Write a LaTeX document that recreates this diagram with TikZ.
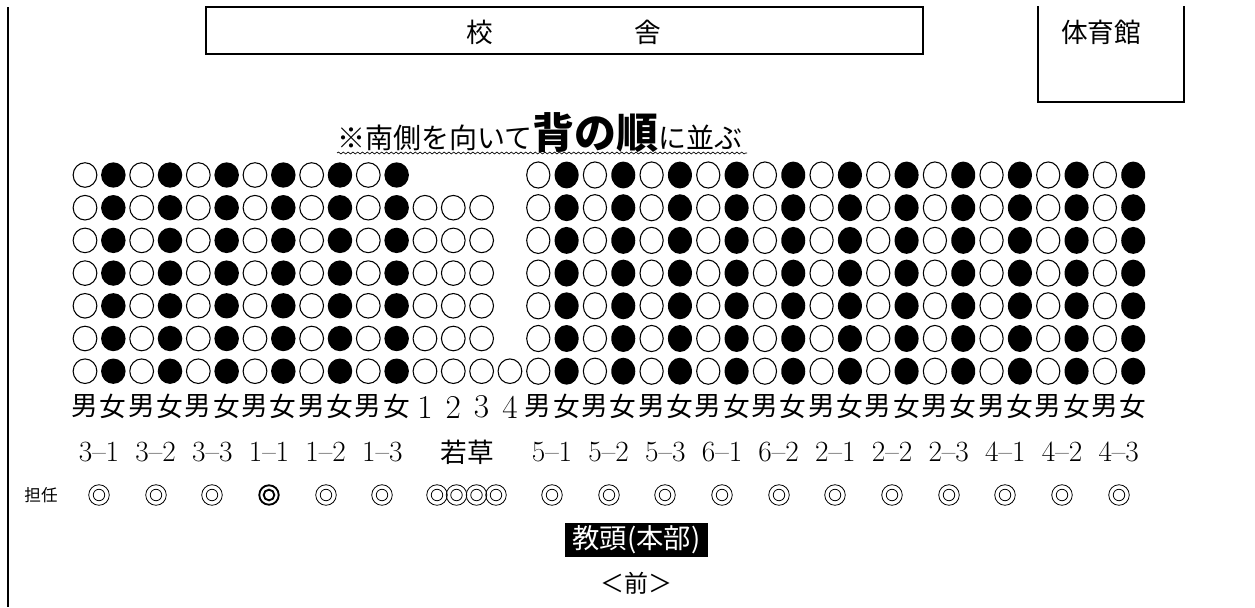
\documentclass[tikz,border=0pt]{standalone}
\usepackage{fontspec}
\newfontfamily\jp{Noto Sans CJK JP}
\usetikzlibrary{decorations.pathmorphing}
\begin{document}
\begin{tikzpicture}[x=0.75pt,y=-0.75pt,
  frame/.style={line width=1.5pt},
  lbl/.style={font=\jp\fontsize{20}{20}\selectfont, inner sep=0pt},
  num/.style={font=\fontsize{25}{25}\selectfont, inner sep=0pt},
  cls/.style={font=\fontsize{22}{22}\selectfont, inner sep=0pt},
  wcirc/.style={draw, line width=0.8pt},
  dbl/.style={draw, line width=0.6pt},
  dblbold/.style={draw, line width=1.4pt}]
\useasboundingbox (0,0) rectangle (1255,607);

% left border line
\coordinate (l1) at (7.5,7);
\coordinate (l2) at (7.5,607);
\draw[frame] (l1) -- (l2);

% school building
\coordinate (s1) at (206,7);
\coordinate (s2) at (923,54);
\draw[frame] (s1) rectangle (s2);
\node[lbl] (ko) at (480,32) {校};
\node[lbl] (sha) at (648,32) {舎};

% gymnasium (open top)
\coordinate (g1) at (1038,6);
\coordinate (g2) at (1038,102);
\coordinate (g3) at (1184,102);
\coordinate (g4) at (1184,6);
\draw[frame] (g1) -- (g2) -- (g3) -- (g4);
\node[lbl] (gym) at (1101,32) {体育館};

% title
\node[anchor=base west, inner sep=0pt] (title) at (337,148)
  {\jp\fontsize{21}{21}\selectfont ※南側を向いて{\bfseries\fontsize{31.5}{31.5}\selectfont 背の順}に並ぶ};
\coordinate (u1) at (337,153);
\coordinate (u2) at (747,153);
\draw[line width=0.5pt, decorate, decoration={snake, amplitude=0.7pt, segment length=3.6pt}] (u1) -- (u2);

% students
\foreach \r in {0,...,6}{
  \foreach \k in {0,...,37}{
    \pgfmathtruncatemacro\show{(\k<12)||(\k>15)||((\r>0)&&(\k<15))||(\r==6)}
    \pgfmathtruncatemacro\blk{(mod(\k,2)==1)&&((\k<12)||(\k>15))}
    \pgfmathsetmacro\ry{\k>15 ? 10.1 : 9.5}
    \pgfmathsetmacro\rx{\k>15 ? 9.0 : 9.2}
    \ifnum\show=1
      \ifnum\blk=1
        \fill (85+28.33*\k,175+32.7*\r) ellipse [x radius=\rx pt, y radius=\ry pt];
      \else
        \draw[wcirc] (85+28.33*\k,175+32.7*\r) ellipse [x radius=\rx pt-0.3pt, y radius=\ry pt-0.3pt];
      \fi
    \fi
  }
}

% boy/girl row
\foreach \k in {0,...,37}{
  \pgfmathtruncatemacro\dig{(\k>11)&&(\k<16)}
  \pgfmathtruncatemacro\odd{mod(\k,2)}
  \pgfmathtruncatemacro\dd{\k-11}
  \ifnum\dig=1
    \node[num] (g\k) at (85+28.33*\k,407) {\dd};
  \else
    \ifnum\odd=1
      \node[lbl] (g\k) at (85+28.33*\k,406) {女};
    \else
      \node[lbl] (g\k) at (85+28.33*\k,406) {男};
    \fi
  \fi
}

% class labels
\foreach \t [count=\i from 0] in {3–1,3–2,3–3,1–1,1–2,1–3}{
  \node[cls] (cl\i) at (99+56.67*\i,452) {\t};
}
\node[lbl] (waka) at (467,452) {若草};
\foreach \t [count=\i from 0] in {5–1,5–2,5–3,6–1,6–2,2–1,2–2,2–3,4–1,4–2,4–3}{
  \node[cls] (cr\i) at (552+56.67*\i,452) {\t};
}

% teachers
\node[font=\jp\fontsize{12.5}{12.5}\selectfont, inner sep=0pt] (tannin) at (41,495) {担任};
\foreach \x in {99,156,212,326,382,437,456.5,476.5,496,552,609,665,722,779,835,892,949,1005,1062,1119}{
  \draw[dbl] (\x,495) circle [radius=7.7pt];
  \draw[dbl] (\x,495) circle [radius=4.3pt];
}
\draw[dblbold] (269,495) circle [radius=7.3pt];
\draw[dblbold] (269,495) circle [radius=4.0pt];

% vice principal
\node[fill=black, text=white, font=\jp\fontsize{20.5}{20.5}\selectfont,
      minimum width=107pt, minimum height=26pt, inner sep=0pt] (kyoto) at (636.5,540) {教頭(本部)};

% front
\node[font=\jp\fontsize{18}{18}\selectfont, inner sep=0pt] (mae) at (636,583) {＜前＞};
\end{tikzpicture}
\end{document}
